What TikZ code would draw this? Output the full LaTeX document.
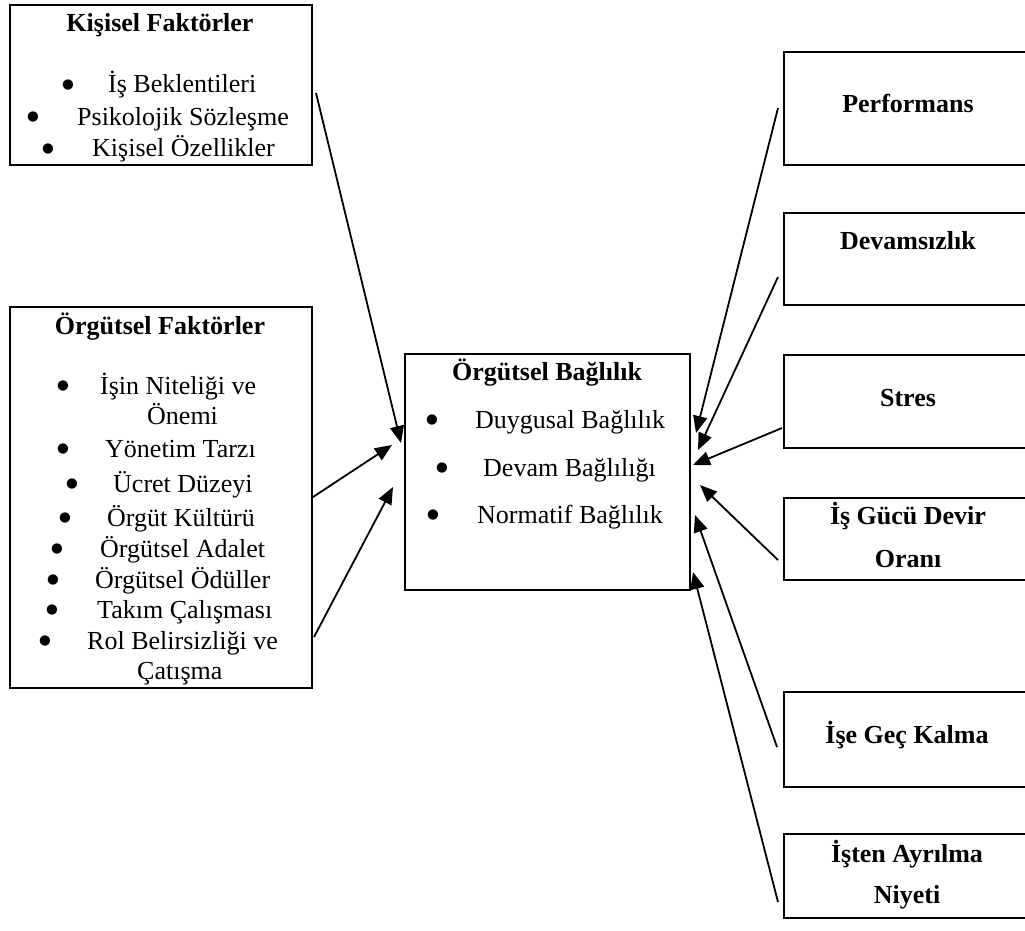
\documentclass[tikz,border=0pt]{standalone}
\usepackage{fontspec}
\setmainfont{Liberation Serif}
\newfontfamily\dvbul{DejaVu Sans}
\usetikzlibrary{arrows.meta,fit}
\begin{document}
\begin{tikzpicture}[x=1pt,y=-1pt,
  box/.style={draw, line width=2.6pt, inner sep=0pt},
  hd/.style={font=\fontsize{26}{30}\selectfont\bfseries, inner sep=0pt, anchor=base},
  tx/.style={font=\fontsize{26}{30}\selectfont, inner sep=0pt, anchor=base west},
  bl/.style={font=\dvbul\fontsize{13.5}{15}\selectfont, inner sep=0pt, anchor=center, yshift=8pt},
  arr/.style={line width=1.8pt, -{Triangle[length=17pt,width=14pt]}}]
\useasboundingbox (0,0) rectangle (1025,931);
\clip (0,0) rectangle (1025,931);

% ---------- boxes ----------
\node[box, fit={(10,5) (312,165)}] (kis) {};
\node[box, fit={(10,307) (312,688)}] (org) {};
\node[box, fit={(405,354) (690,590)}] (bag) {};
\node[box, fit={(784,52) (1035,165)}] (perf) {};
\node[box, fit={(784,213) (1035,305)}] (devam) {};
\node[box, fit={(784,355) (1035,448)}] (stres) {};
\node[box, fit={(784,498) (1035,580)}] (isg) {};
\node[box, fit={(784,692) (1035,787)}] (gec) {};
\node[box, fit={(784,834) (1035,918)}] (ayr) {};

% ---------- Kişisel Faktörler ----------
\node[hd] (kish) at (160,32) {Kişisel Faktörler};
\node[bl] (kb1) at (68,93) {●};
\node[tx] (kt1) at (108,93) {İş Beklentileri};
\node[bl] (kb2) at (33,125) {●};
\node[tx] (kt2) at (77,125) {Psikolojik Sözleşme};
\node[bl] (kb3) at (48,157) {●};
\node[tx] (kt3) at (92,157) {Kişisel Özellikler};

% ---------- Örgütsel Faktörler ----------
\node[hd] (orgh) at (160,334) {Örgütsel Faktörler};
\node[bl] (ob1) at (63,394) {●};
\node[tx] (ot1) at (100,394) {İşin Niteliği ve};
\node[tx] (ot1b) at (147,424) {Önemi};
\node[bl] (ob2) at (63,457) {●};
\node[tx] (ot2) at (105,457) {Yönetim Tarzı};
\node[bl] (ob3) at (72,492) {●};
\node[tx] (ot3) at (113,492) {Ücret Düzeyi};
\node[bl] (ob4) at (65,526) {●};
\node[tx] (ot4) at (107,526) {Örgüt Kültürü};
\node[bl] (ob5) at (57,557) {●};
\node[tx] (ot5) at (100,557) {Örgütsel Adalet};
\node[bl] (ob6) at (53,588) {●};
\node[tx] (ot6) at (95,588) {Örgütsel Ödüller};
\node[bl] (ob7) at (52,618) {●};
\node[tx] (ot7) at (97,618) {Takım Çalışması};
\node[bl] (ob8) at (45,649) {●};
\node[tx] (ot8) at (87,649) {Rol Belirsizliği ve};
\node[tx] (ot8b) at (137,679) {Çatışma};

% ---------- Örgütsel Bağlılık ----------
\node[hd] (bagh) at (547,380) {Örgütsel Bağlılık};
\node[bl] (cb1) at (432,428) {●};
\node[tx] (ct1) at (475,428) {Duygusal Bağlılık};
\node[bl] (cb2) at (442,476) {●};
\node[tx] (ct2) at (483,476) {Devam Bağlılığı};
\node[bl] (cb3) at (433,523) {●};
\node[tx] (ct3) at (477,523) {Normatif Bağlılık};

% ---------- right boxes ----------
\node[hd] (perft) at (908,113) {Performans};
\node[hd] (devt) at (908,249) {Devamsızlık};
\node[hd] (strt) at (908,406) {Stres};
\node[hd] (isgt1) at (908,524) {İş Gücü Devir};
\node[hd] (isgt2) at (908,567) {Oranı};
\node[hd] (gect) at (907,743) {İşe Geç Kalma};
\node[hd] (ayrt1) at (907,862) {İşten Ayrılma};
\node[hd] (ayrt2) at (907,903) {Niyeti};

% ---------- connector end points ----------
\coordinate (s1) at (316,93);  \coordinate (e1) at (401,443);
\coordinate (s2) at (313,497); \coordinate (e2) at (392,445);
\coordinate (s3) at (314,637); \coordinate (e3) at (393,487);
\coordinate (s4) at (778,108); \coordinate (e4) at (696,433);
\coordinate (s5) at (778,277); \coordinate (e5) at (698,450);
\coordinate (s6) at (782,428); \coordinate (e6) at (693,465);
\coordinate (s7) at (778,560); \coordinate (e7) at (700,485);
\coordinate (s8) at (777,747); \coordinate (e8) at (695,515);
\coordinate (s9) at (778,902); \coordinate (e9) at (693,572);

\draw[arr] (s1) -- (e1);
\draw[arr] (s2) -- (e2);
\draw[arr] (s3) -- (e3);
\draw[arr] (s4) -- (e4);
\draw[arr] (s5) -- (e5);
\draw[arr] (s6) -- (e6);
\draw[arr] (s7) -- (e7);
\draw[arr] (s8) -- (e8);
\draw[arr] (s9) -- (e9);
\end{tikzpicture}
\end{document}
